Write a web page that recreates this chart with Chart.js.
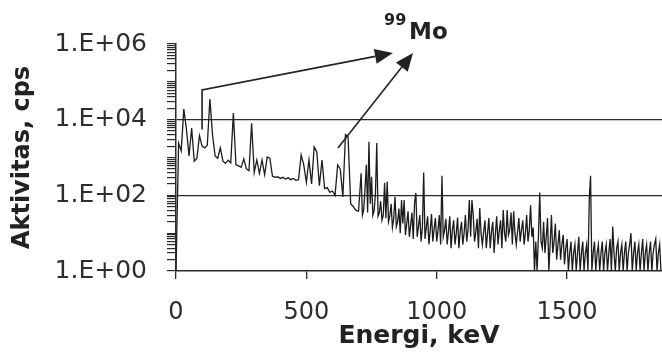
<!DOCTYPE html>
<html>
<head>
<meta charset="utf-8">
<script src="https://cdn.jsdelivr.net/npm/chart.js@4.4.1/dist/chart.umd.min.js"></script>
<style>
  html, body { margin: 0; padding: 0; background: #fff; }
  #wrap { width: 662px; height: 352px; }
</style>
</head>
<body>
<div id="wrap"><canvas id="spectrum" width="662" height="352"></canvas></div>
<script>
// gamma spectrum
// below 700 keV one point per 10 keV, above it the comb is read every 5 keV
var energies = [
    0,   10,   20,   30,   40,   50,   60,   70,   80,   90,
  100,  110,  120,  130,  140,  150,  160,  170,  180,  190,
  200,  210,  220,  230,  240,  250,  260,  270,  280,  290,
  300,  310,  320,  330,  340,  350,  360,  370,  380,  390,
  400,  410,  420,  430,  440,  450,  460,  470,  480,  490,
  500,  510,  520,  530,  540,  550,  560,  570,  580,  590,
  600,  610,  620,  630,  640,  650,  660,  670,  680,  690,
  700,  705,  710,  715,  720,  725,  730,  735,  740,  745,  750,  755,  760,  765,  770,  775,  780,  785,  790,  795,
  800,  805,  810,  815,  820,  825,  830,  835,  840,  845,  850,  855,  860,  865,  870,  875,  880,  885,  890,  895,
  900,  905,  910,  915,  920,  925,  930,  935,  940,  945,  950,  955,  960,  965,  970,  975,  980,  985,  990,  995,
 1000, 1005, 1010, 1015, 1020, 1025, 1030, 1035, 1040, 1045, 1050, 1055, 1060, 1065, 1070, 1075, 1080, 1085, 1090, 1095,
 1100, 1105, 1110, 1115, 1120, 1125, 1130, 1135, 1140, 1145, 1150, 1155, 1160, 1165, 1170, 1175, 1180, 1185, 1190, 1195,
 1200, 1205, 1210, 1215, 1220, 1225, 1230, 1235, 1240, 1245, 1250, 1255, 1260, 1265, 1270, 1275, 1280, 1285, 1290, 1295,
 1300, 1305, 1310, 1315, 1320, 1325, 1330, 1335, 1340, 1345, 1350, 1355, 1360, 1365, 1370, 1375, 1380, 1385, 1390, 1395,
 1400, 1405, 1410, 1415, 1420, 1425, 1430, 1435, 1440, 1445, 1450, 1455, 1460, 1465, 1470, 1475, 1480, 1485, 1490, 1495,
 1500, 1505, 1510, 1515, 1520, 1525, 1530, 1535, 1540, 1545, 1550, 1555, 1560, 1565, 1570, 1575, 1580, 1585, 1590, 1595,
 1600, 1605, 1610, 1615, 1620, 1625, 1630, 1635, 1640, 1645, 1650, 1655, 1660, 1665, 1670, 1675, 1680, 1685, 1690, 1695,
 1700, 1705, 1710, 1715, 1720, 1725, 1730, 1735, 1740, 1745, 1750, 1755, 1760, 1765, 1770, 1775, 1780, 1785, 1790, 1795,
 1800, 1805, 1810, 1815, 1820, 1825, 1830, 1835, 1840, 1845, 1850, 1855, 1860
];
var counts = [
  1, 2400, 1500, 19000, 5500, 1100, 6000, 800, 950, 3800,
  2000, 1800, 2100, 35000, 4000, 1100, 950, 1800, 800, 700,
  850, 720, 15000, 640, 600, 550, 920, 500, 450, 8000,
  400, 860, 380, 860, 350, 1030, 960, 320, 300, 310,
  280, 300, 270, 290, 260, 280, 250, 260, 1170, 640,
  220, 860, 200, 1900, 1400, 180, 860, 150, 160, 120,
  130, 100, 640, 500, 90, 4000, 3500, 60, 50, 40,
  38, 120, 385, 30, 42, 150, 640, 35, 2600, 60, 310, 30, 40, 110, 2400, 28, 35, 70, 22, 30,
  215, 25, 230, 20, 28, 60, 14, 24, 92, 15, 20, 45, 10, 75, 18, 75, 9, 18, 38, 8,
  16, 35, 7, 63, 116, 8, 15, 30, 6, 14, 400, 7, 14, 28, 5, 12, 32, 6, 13, 25,
  6, 12, 30, 5, 330, 8, 12, 24, 5, 11, 28, 4, 12, 22, 5, 10, 26, 4, 11, 20,
  5, 10, 30, 6, 12, 75, 8, 75, 30, 6, 11, 24, 4, 46, 10, 5, 11, 22, 4, 10,
  25, 4, 11, 20, 3, 10, 28, 5, 12, 22, 4, 41, 10, 6, 41, 9, 12, 35, 5, 38,
  10, 5, 11, 25, 6, 12, 22, 5, 10, 30, 6, 12, 55, 8, 14, 1, 6, 1, 8, 118,
  6, 4, 20, 3, 8, 25, 1, 5, 30, 3, 6, 18, 2, 5, 12, 2, 5, 9, 1.5, 4,
  7, 1, 3, 6, 1, 3, 5, 1, 3, 8, 1, 3, 6, 1, 3, 5, 1, 75, 330, 1,
  3, 6, 1, 3, 5, 1, 3, 6, 1, 3, 5, 1, 3, 7, 1, 15, 3, 1, 4, 6,
  1, 3, 5, 1, 3, 6, 1, 3, 5, 10, 1, 3, 6, 1, 3, 5, 1, 3, 7, 1,
  3, 5, 1, 3, 6, 1, 3, 5, 7, 1, 3, 5, 1
];

var xTicks = [0, 500, 1000, 1500];
var xTickLabels = ['0', '500', '1000', '1500'];
var yTicks = [1, 100, 10000, 1000000];
var yTickLabels = ['1.E+00', '1.E+02', '1.E+04', '1.E+06'];
var yGridValues = [100, 10000];

// arrows pointing at the 99Mo label, as [keV, cps]
var arrowA = [[100, 5500], [100, 61000], [832, 580000]];
var arrowB = [[621, 1780], [909, 580000]];
var massNumber = '99';
var nuclide = 'Mo';

var ink = '#222';

var arrowPlugin = {
    id: 'moArrows',
    afterDraw: function (chart) {
        var ctx = chart.ctx;
        var xs = chart.scales.x;
        var ys = chart.scales.y;

        function toPx(p) {
            return [xs.getPixelForValue(p[0]), ys.getPixelForValue(p[1])];
        }

        function drawArrow(points) {
            var pts = points.map(toPx);
            var n = pts.length;
            var a = pts[n - 2], b = pts[n - 1];
            var ang = Math.atan2(b[1] - a[1], b[0] - a[0]);
            var len = 18, half = 7.5;
            var bx = b[0] - len * Math.cos(ang);
            var by = b[1] - len * Math.sin(ang);

            ctx.save();
            ctx.strokeStyle = ink;
            ctx.fillStyle = ink;
            ctx.lineWidth = 1.6;
            ctx.beginPath();
            ctx.moveTo(pts[0][0], pts[0][1]);
            for (var i = 1; i < n - 1; i++) {
                ctx.lineTo(pts[i][0], pts[i][1]);
            }
            ctx.lineTo(bx, by);
            ctx.stroke();

            ctx.beginPath();
            ctx.moveTo(b[0], b[1]);
            ctx.lineTo(bx - half * Math.sin(ang), by + half * Math.cos(ang));
            ctx.lineTo(bx + half * Math.sin(ang), by - half * Math.cos(ang));
            ctx.closePath();
            ctx.fill();
            ctx.restore();
        }

        drawArrow(arrowA);
        drawArrow(arrowB);

        // label sits just above the tip of the second arrow
        var tip = toPx(arrowB[arrowB.length - 1]);
        ctx.save();
        ctx.fillStyle = ink;
        ctx.textBaseline = 'alphabetic';
        ctx.textAlign = 'left';
        ctx.font = 'bold 16px "DejaVu Sans"';
        ctx.fillText(massNumber, tip[0] - 29, tip[1] - 28);
        ctx.font = 'bold 23px "DejaVu Sans"';
        ctx.fillText(nuclide, tip[0] - 4, tip[1] - 14);
        ctx.restore();
    }
};

var chart = new Chart(document.getElementById('spectrum'), {
    type: 'line',
    data: {
        datasets: [{
            label: 'Aktivitas',
            data: energies.map(function (e, i) { return {x: e, y: counts[i]}; }),
            borderColor: '#1c1c1c',
            borderWidth: 1.3,
            pointRadius: 0,
            tension: 0,
            fill: false
        }]
    },
    options: {
        responsive: false,
        animation: false,
        devicePixelRatio: 1,
        layout: {padding: {top: 44, right: 0, bottom: 0, left: 0}},
        plugins: {
            legend: {display: false},
            tooltip: {enabled: false}
        },
        scales: {
            x: {
                type: 'linear',
                min: 0,
                max: 1864,
                afterBuildTicks: function (scale) {
                    scale.ticks = xTicks.map(function (v) { return {value: v}; });
                },
                afterFit: function (scale) { scale.height = 81; },
                grid: {drawOnChartArea: false, color: '#2a2a2a', tickLength: 8, lineWidth: 1.3},
                border: {color: '#2a2a2a', width: 1.5},
                ticks: {
                    color: '#2e2e2e',
                    font: {family: 'DejaVu Sans', size: 24},
                    padding: 19,
                    maxRotation: 0,
                    autoSkip: false,
                    callback: function (v) {
                        var i = xTicks.indexOf(v);
                        return i >= 0 ? xTickLabels[i] : '';
                    }
                },
                title: {
                    display: true,
                    text: 'Energi, keV',
                    color: ink,
                    font: {family: 'DejaVu Sans', size: 25, weight: 'bold'},
                    padding: {top: 0, bottom: 1}
                }
            },
            y: {
                type: 'logarithmic',
                min: 1,
                max: 1000000,
                afterBuildTicks: function (scale) {
                    // keep 1..9 per decade, drop the extra 1.5 step
                    scale.ticks = scale.ticks.filter(function (t) {
                        var m = t.value / Math.pow(10, Math.floor(Math.log10(t.value) + 1e-9));
                        return Math.abs(m - 1.5) > 1e-6;
                    });
                },
                afterFit: function (scale) { scale.width = 176; },
                grid: {
                    color: function (c) {
                        return c.tick && yGridValues.indexOf(c.tick.value) >= 0 ? '#2a2a2a' : 'rgba(0,0,0,0)';
                    },
                    tickColor: '#2a2a2a',
                    tickLength: 9,
                    lineWidth: 1.2
                },
                border: {color: '#2a2a2a', width: 1.5},
                ticks: {
                    color: '#2e2e2e',
                    font: {family: 'DejaVu Sans', size: 25},
                    padding: 20,
                    autoSkip: false,
                    callback: function (v) {
                        var i = yTicks.indexOf(v);
                        return i >= 0 ? yTickLabels[i] : '';
                    }
                },
                title: {
                    display: true,
                    text: 'Aktivitas, cps',
                    color: ink,
                    font: {family: 'DejaVu Sans', size: 24, weight: 'bold'},
                    padding: {top: 8, bottom: 0}
                }
            }
        }
    },
    plugins: [arrowPlugin]
});
</script>
</body>
</html>
